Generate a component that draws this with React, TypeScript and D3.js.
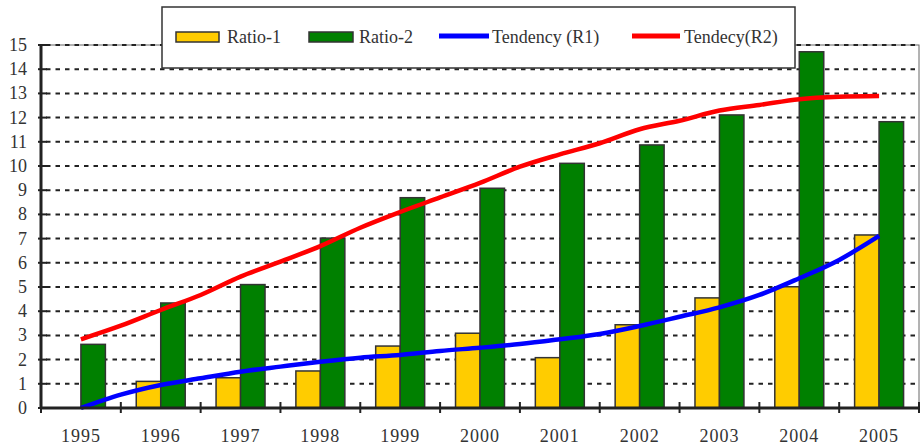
import { useEffect } from 'react';
import * as d3 from 'd3';

const years = ['1995', '1996', '1997', '1998', '1999', '2000', '2001', '2002', '2003', '2004', '2005'];
const ratio1 = [0, 1.1, 1.25, 1.53, 2.56, 3.09, 2.08, 3.44, 4.55, 5.01, 7.15];
const ratio2 = [2.63, 4.34, 5.1, 7.02, 8.69, 9.08, 10.11, 10.87, 12.11, 14.72, 11.83];

// trend lines read every half year, from the 1995 centre to the 2005 centre
const trendSteps = [0, 0.5, 1, 1.5, 2, 2.5, 3, 3.5, 4, 4.5, 5, 5.5, 6, 6.5, 7, 7.5, 8, 8.5, 9, 9.5, 10];
const tendR1 = [0, 0.55, 0.95, 1.23, 1.5, 1.71, 1.91, 2.08, 2.19, 2.36, 2.49, 2.64, 2.84, 3.06, 3.39, 3.77, 4.16, 4.67, 5.36, 6.12, 7.11];
const tendR2 = [2.84, 3.4, 4.05, 4.67, 5.43, 6.05, 6.69, 7.45, 8.1, 8.7, 9.3, 9.97, 10.48, 10.94, 11.52, 11.87, 12.29, 12.52, 12.76, 12.86, 12.89];

const yTicks = [0, 1, 2, 3, 4, 5, 6, 7, 8, 9, 10, 11, 12, 13, 14, 15];

const W = 924;
const H = 446;
const left = 41;
const right = 919;
const top = 45;
const bottom = 408;

const YELLOW = '#FFCC00';
const GREEN = '#008000';
const TXT = '#333';
const FONT = "'Times New Roman', Times, 'Liberation Serif', serif";

export default function App() {
  useEffect(() => {
    document.body.style.margin = '0';
  }, []);

  const x = d3.scaleBand().domain(years).range([left, right]).padding(0);
  const bw = x.bandwidth();
  const xs = d3.scaleBand().domain(['r1', 'r2']).range([0, bw]).paddingInner(0).paddingOuter(0.63);
  const y = d3.scaleLinear().domain([0, 15]).range([bottom, top]);
  const xt = d3.scaleLinear().domain([0, 10]).range([left + bw / 2, left + bw * 10.5]);

  const trend = d3.line<number>()
    .x((_, i) => xt(trendSteps[i]))
    .y((d) => y(d))
    .curve(d3.curveMonotoneX);

  const boundaries = d3.range(years.length + 1).map((i) => left + i * bw);
  const txt = { fontFamily: FONT, fontSize: '18px', fill: TXT };

  return (
    <svg width={W} height={H} style={{ display: 'block', background: '#fff' }}>
      {/* plot area border */}
      <rect x={left} y={top} width={right - left} height={bottom - top} fill="none" stroke="#666" strokeWidth={1} />

      {/* gridlines */}
      {yTicks.filter((t) => t > 0).map((t) => (
        <line key={t} x1={left + 5} x2={right} y1={y(t)} y2={y(t)} stroke="#222" strokeWidth={2} strokeDasharray="4.5,5" />
      ))}

      {/* bars */}
      {years.map((yr, i) => (
        <g key={yr}>
          {ratio1[i] > 0 && (
            <rect x={x(yr)! + xs('r1')!} y={y(ratio1[i])} width={xs.bandwidth()} height={y(0) - y(ratio1[i])}
              fill={YELLOW} stroke="#333" strokeWidth={1.5} />
          )}
          <rect x={x(yr)! + xs('r2')!} y={y(ratio2[i])} width={xs.bandwidth()} height={y(0) - y(ratio2[i])}
            fill={GREEN} stroke="#333" strokeWidth={1.5} />
        </g>
      ))}

      {/* trend lines */}
      <path d={trend(tendR2) || ''} fill="none" stroke="#FF0000" strokeWidth={4.5} strokeLinejoin="round" />
      <path d={trend(tendR1) || ''} fill="none" stroke="#0000FF" strokeWidth={4.5} strokeLinejoin="round" />

      {/* y axis */}
      <line x1={left} x2={left} y1={top} y2={bottom} stroke="#222" strokeWidth={3} />
      {yTicks.map((t) => (
        <g key={t}>
          <line x1={left - 3} x2={left + 6} y1={y(t)} y2={y(t)} stroke="#222" strokeWidth={2} />
          <text x={27} y={y(t) + 6} textAnchor="end" style={txt}>{t}</text>
        </g>
      ))}

      {/* x axis */}
      <line x1={left} x2={right} y1={bottom} y2={bottom} stroke="#222" strokeWidth={3} />
      {boundaries.map((bx, i) => (
        <line key={i} x1={bx} x2={bx} y1={bottom - 6} y2={bottom + 5} stroke="#222" strokeWidth={2} />
      ))}
      {years.map((yr) => (
        <text key={yr} x={x(yr)! + bw / 2} y={442} textAnchor="middle" style={{ ...txt, letterSpacing: '1px' }}>{yr}</text>
      ))}

      {/* legend */}
      <g>
        <rect x={162} y={7} width={633} height={61} fill="#fff" stroke="#333" strokeWidth={1.5} />
        <rect x={176} y={32} width={43} height={10} fill={YELLOW} stroke="#333" strokeWidth={1.5} />
        <text x={227} y={43} style={txt}>Ratio-1</text>
        <rect x={309} y={32} width={44} height={10} fill={GREEN} stroke="#333" strokeWidth={1.5} />
        <text x={359} y={43} style={txt}>Ratio-2</text>
        <line x1={439} x2={489} y1={36} y2={36} stroke="#0000FF" strokeWidth={5} />
        <text x={492} y={43} style={txt}>Tendency (R1)</text>
        <line x1={632} x2={680} y1={36} y2={36} stroke="#FF0000" strokeWidth={5} />
        <text x={684} y={43} style={txt}>Tendecy(R2)</text>
      </g>
    </svg>
  );
}
